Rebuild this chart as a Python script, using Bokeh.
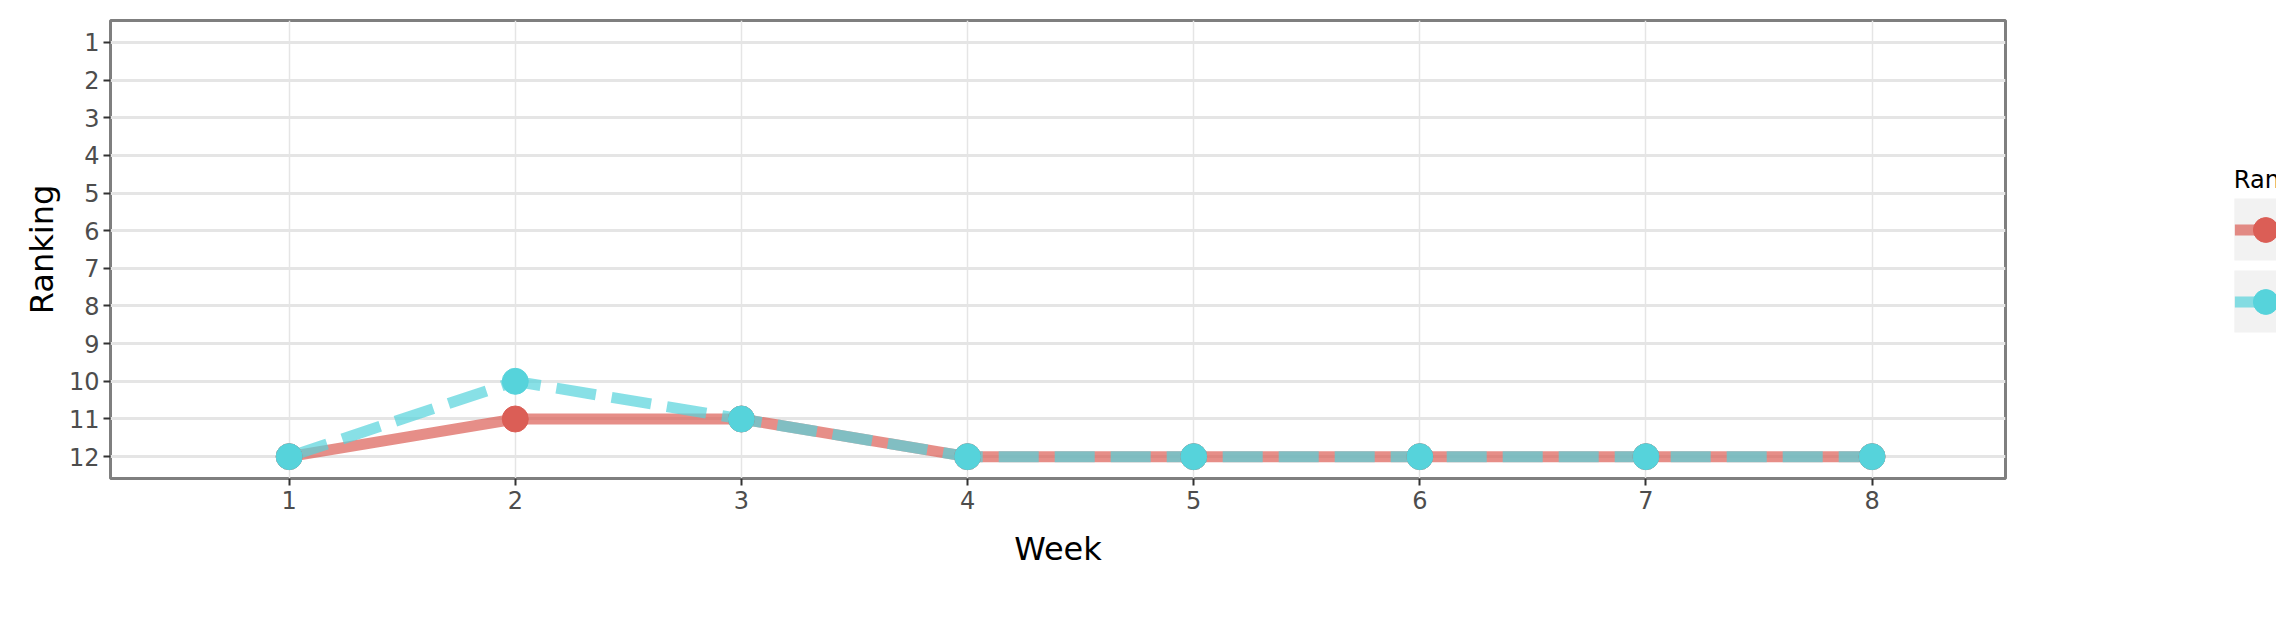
from bokeh.plotting import figure
from bokeh.models import Legend, LegendItem, FixedTicker, Range1d
from bokeh.embed import file_html
from bokeh.resources import INLINE

weeks = [1, 2, 3, 4, 5, 6, 7, 8]
overall = [12, 11, 11, 12, 12, 12, 12, 12]
power = [12, 10, 11, 12, 12, 12, 12, 12]
rank_ticks = list(range(1, 13))

RED = "#DB5E56"
CYAN = "#56D3DB"
FONT = "DejaVu Sans"

p = figure(frame_width=1895, frame_height=458, output_backend="svg", toolbar_location=None,
           x_range=Range1d(0.21, 8.59), y_range=Range1d(12.58, 0.42),
           min_border_left=110, min_border_top=20, min_border_bottom=20, min_border_right=10)
p.background_fill_color = "white"
p.outline_line_color = "#7f7f7f"
p.outline_line_width = 3

p.xaxis.ticker = FixedTicker(ticks=weeks)
p.yaxis.ticker = FixedTicker(ticks=rank_ticks)
for ax in (p.xaxis[0], p.yaxis[0]):
    ax.axis_line_color = None
    ax.major_tick_line_color = "#333333"
    ax.major_tick_line_width = 2
    ax.major_tick_out = 7
    ax.major_tick_in = 0
    ax.minor_tick_line_color = None
    ax.major_label_text_font = FONT
    ax.major_label_text_font_size = "24px"
    ax.major_label_text_color = "#4d4d4d"
    ax.axis_label_text_font = FONT
    ax.axis_label_text_font_size = "32px"
    ax.axis_label_text_font_style = "normal"
    ax.axis_label_text_color = "black"
p.xaxis.axis_label = "Week"
p.yaxis.axis_label = "Ranking"
p.xaxis.axis_label_standoff = 18
p.yaxis.major_label_standoff = 4
p.xgrid.ticker = FixedTicker(ticks=weeks)
p.ygrid.ticker = FixedTicker(ticks=rank_ticks)
p.xgrid.grid_line_color = "#e5e5e5"
p.xgrid.grid_line_width = 1.5
p.ygrid.grid_line_color = "#e5e5e5"
p.ygrid.grid_line_width = 3

l1 = p.line(weeks, overall, line_color=RED, line_alpha=0.7, line_width=11)
l2 = p.line(weeks, power, line_color=CYAN, line_alpha=0.7, line_width=11, line_dash="40 16")
s1 = p.scatter(weeks, overall, color=RED, size=26)
s2 = p.scatter(weeks, power, color=CYAN, size=26)

legend = Legend(items=[LegendItem(label="overall", renderers=[l1, s1]),
                       LegendItem(label="power", renderers=[l2, s2])],
                title="Ranking", location="center", border_line_color=None,
                glyph_width=62, glyph_height=62, label_standoff=14,
                spacing=10, margin=10, padding=8)
legend.title_text_font = FONT
legend.title_text_font_size = "24px"
legend.title_text_font_style = "normal"
legend.title_text_color = "black"
legend.label_text_font = FONT
legend.label_text_font_size = "21px"
legend.label_text_color = "black"
legend.background_fill_alpha = 0
legend.item_background_policy = "every"
legend.item_background_fill_color = "#f2f2f2"
legend.item_background_fill_alpha = 1
p.add_layout(legend, "right")

open("out.html", "w").write(file_html(p, INLINE))
